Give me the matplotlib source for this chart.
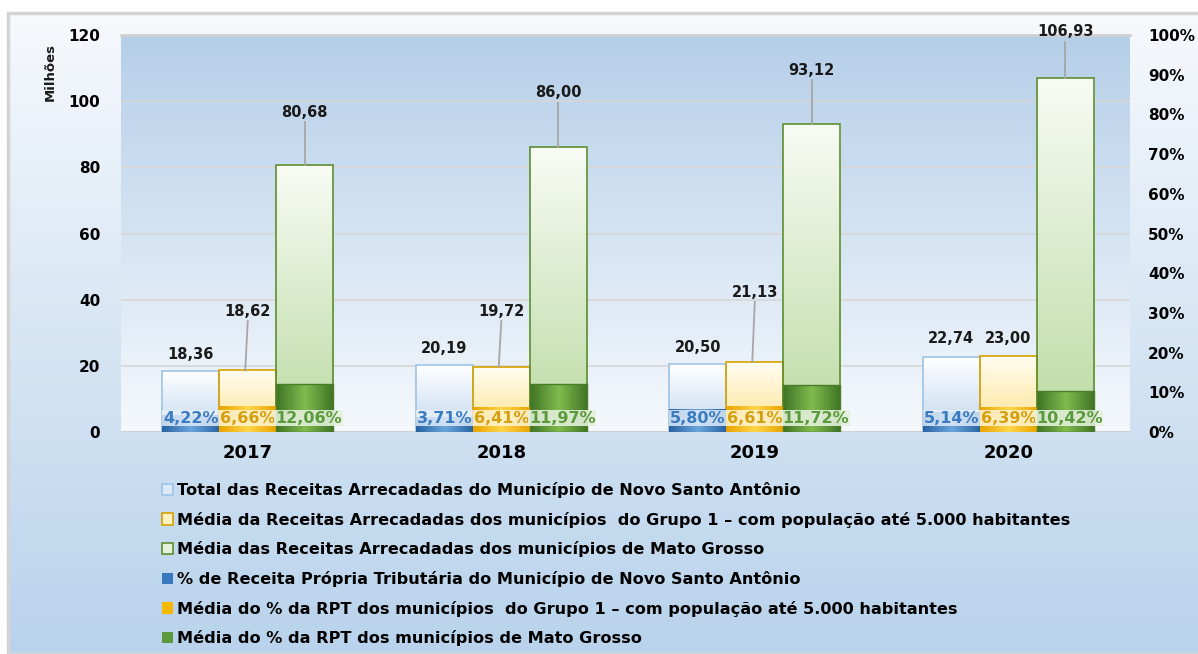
import numpy as np
import matplotlib
matplotlib.use("Agg")
import matplotlib.pyplot as plt
from matplotlib.colors import to_rgb
from matplotlib.patches import Rectangle

# ---- data
anos = ["2017", "2018", "2019", "2020"]
total_municipio = [18.36, 20.19, 20.50, 22.74]
media_grupo1 = [18.62, 19.72, 21.13, 23.00]
media_mt = [80.68, 86.00, 93.12, 106.93]
pct_municipio = [4.22, 3.71, 5.80, 5.14]
pct_grupo1 = [6.66, 6.41, 6.61, 6.39]
pct_mt = [12.06, 11.97, 11.72, 10.42]

legend_labels = [
    "Total das Receitas Arrecadadas do Município de Novo Santo Antônio",
    "Média da Receitas Arrecadadas dos municípios  do Grupo 1 – com população até 5.000 habitantes",
    "Média das Receitas Arrecadadas dos municípios de Mato Grosso",
    "% de Receita Própria Tributária do Município de Novo Santo Antônio",
    "Média do % da RPT dos municípios  do Grupo 1 – com população até 5.000 habitantes",
    "Média do % da RPT dos municípios de Mato Grosso",
]

plt.rcParams['font.family'] = ['DejaVu Sans']
plt.rcParams['font.weight'] = 'bold'


def gradient_img(c1, c2, n=64, horizontal=False, center=None):
    a, b = np.array(to_rgb(c1)), np.array(to_rgb(c2))
    t = np.linspace(0, 1, n)
    if center is not None:
        # edges c1 -> center c2 -> edges c1
        t = 1 - np.abs(t - 0.5) * 2
    img = a[None, :] * (1 - t[:, None]) + b[None, :] * t[:, None]
    if horizontal:
        return img[None, :, :]
    return img[:, None, :]


def grad_bar(ax, bar, c_top, c_bot, horizontal=False):
    x, y = bar.get_x(), bar.get_y()
    w, h = bar.get_width(), bar.get_height()
    if horizontal:
        img = gradient_img(c_top, c_bot, horizontal=True, center=True)
    else:
        img = gradient_img(c_top, c_bot)
    im = ax.imshow(img, extent=(x, x + w, y, y + h), origin="upper",
                   aspect="auto", zorder=bar.get_zorder() - 0.1,
                   interpolation="bilinear")
    im.set_clip_path(bar)


fig = plt.figure(figsize=(11.98, 6.54), dpi=100)
fig.patch.set_facecolor("white")

# fond du graphique
bg = fig.add_axes([8 / 1198, 0, 1 - 8 / 1198, 1 - 13 / 654], zorder=-10)
bg.imshow(gradient_img("#f6f9fc", "#b9d3ec"), extent=(0, 1, 0, 1),
          aspect="auto", origin="upper")
bg.set_xlim(0, 1)
bg.set_ylim(0, 1)
bg.axis("off")
bg.add_patch(Rectangle((0, 0), 1.2, 1, fill=False, edgecolor="#d4d4d4",
                       linewidth=2.5, transform=bg.transAxes, clip_on=False))

ax = fig.add_axes([121 / 1198, 1 - 432 / 654, (1130 - 121) / 1198, (432 - 35) / 654])
ax.patch.set_alpha(0)
ax.imshow(gradient_img("#b6cfe9", "#f4f8fc"), extent=(0, 1, 0, 1),
          transform=ax.transAxes, aspect="auto", origin="upper", zorder=-1)

x = np.arange(len(anos))
w = 0.225

b1 = ax.bar(x - w, total_municipio, w, facecolor="none", edgecolor="#9dc3e6", linewidth=1.2, zorder=2)
b2 = ax.bar(x, media_grupo1, w, facecolor="none", edgecolor="#d6a200", linewidth=1.2, zorder=2)
b3 = ax.bar(x + w, media_mt, w, facecolor="none", edgecolor="#5b8f2f", linewidth=1.2, zorder=2)
for bar in b1:
    grad_bar(ax, bar, "#ffffff", "#c2d7ef")
for bar in b2:
    grad_bar(ax, bar, "#fffdf2", "#ffe38f")
for bar in b3:
    grad_bar(ax, bar, "#f8fbf4", "#bcdba4")

ax.set_xlim(-0.5, 3.48)
ax.set_ylim(0, 120)
ax.set_yticks(np.arange(0, 121, 20))
ax.set_axisbelow(True)
ax.grid(axis="y", color="#d6d6d6", linewidth=1.2, zorder=0)
for s in ax.spines.values():
    s.set_visible(False)
ax.tick_params(axis="both", length=0)
ax.tick_params(axis="y", labelsize=11, pad=15)
ax.tick_params(axis="x", labelsize=13, pad=9)
ax.set_xticks(x)
ax.set_xticklabels(anos, fontweight="bold")
ax.axhline(0, color="#d0d0d0", linewidth=1.5, zorder=1)
ax.axhline(120, color="#d0d0d0", linewidth=2, zorder=1, clip_on=False)

# étiquettes des valeurs
off_blue = [5.0, 5.2, 5.0, 5.6]
off_yellow = [17.7, 16.6, 21.0, 5.4]
off_green = [16.0, 16.5, 16.3, 14.0]
for i in range(len(anos)):
    ax.text(x[i] - w, total_municipio[i] + off_blue[i], f"{total_municipio[i]:.2f}".replace(".", ","),
            ha="center", va="center", fontsize=10.5, fontweight="bold", color="#1a1a1a")
    ax.text(x[i], media_grupo1[i] + off_yellow[i], f"{media_grupo1[i]:.2f}".replace(".", ","),
            ha="center", va="center", fontsize=10.5, fontweight="bold", color="#1a1a1a")
    if off_yellow[i] > 8:
        ax.plot([x[i], x[i] - 0.01], [media_grupo1[i] + off_yellow[i] - 2.8, media_grupo1[i]],
                color="#a6a6a6", linewidth=1.3, zorder=3)
    ax.text(x[i] + w, media_mt[i] + off_green[i], f"{media_mt[i]:.2f}".replace(".", ","),
            ha="center", va="center", fontsize=10.5, fontweight="bold", color="#1a1a1a")
    ax.plot([x[i] + w, x[i] + w], [media_mt[i] + off_green[i] - 3.0, media_mt[i]],
            color="#a6a6a6", linewidth=1.3, zorder=3)

# axe secondaire : pourcentages
ax2 = ax.twinx()
ax2.patch.set_visible(False)
ax2.set_ylim(0, 100)
ax2.set_yticks(np.arange(0, 101, 10))
ax2.set_yticklabels([f"{v}%" for v in range(0, 101, 10)])
for s in ax2.spines.values():
    s.set_visible(False)
ax2.tick_params(axis="y", length=0, labelsize=11, pad=13)

p1 = ax2.bar(x - w, pct_municipio, w, facecolor="none", edgecolor="none", zorder=2)
p2 = ax2.bar(x, pct_grupo1, w, facecolor="none", edgecolor="none", zorder=2)
p3 = ax2.bar(x + w, pct_mt, w, facecolor="none", edgecolor="#4b7d28", linewidth=1, zorder=2)
for bar in p1:
    grad_bar(ax2, bar, "#2a63a3", "#6aa5dc", horizontal=True)
for bar in p2:
    grad_bar(ax2, bar, "#e8a400", "#ffd54a", horizontal=True)
for bar in p3:
    grad_bar(ax2, bar, "#3f7424", "#80bb4f", horizontal=True)
ax2.set_xlim(-0.5, 3.48)
ax2.set_ylim(0, 100)

for i in range(len(anos)):
    ax2.text(x[i] - w, 3.5, f"{pct_municipio[i]:.2f}%".replace(".", ","), ha="center", va="center",
             fontsize=11.5, fontweight="bold", color="#3a7cc2", zorder=5,
             bbox=dict(boxstyle="square,pad=0.05", facecolor="#e9f1fa", edgecolor="none", alpha=0.8))
    ax2.text(x[i], 3.5, f"{pct_grupo1[i]:.2f}%".replace(".", ","), ha="center", va="center",
             fontsize=11.5, fontweight="bold", color="#d4a011", zorder=5,
             bbox=dict(boxstyle="square,pad=0.05", facecolor="#fff5d6", edgecolor="none", alpha=0.85))
    ax2.text(x[i] + w + 0.015, 3.5, f"{pct_mt[i]:.2f}%".replace(".", ","), ha="center", va="center",
             fontsize=11.5, fontweight="bold", color="#5a9a3c", zorder=5,
             bbox=dict(boxstyle="square,pad=0.05", facecolor="#e4f0db", edgecolor="none", alpha=0.9))

fig.text(50 / 1198, 1 - 72 / 654, "Milhões", rotation=90, ha="center", va="center",
         fontsize=9.5, fontweight="bold", color="#1a1a1a")

# légende
handles = [
    Rectangle((0, 0), 1, 1, facecolor="#dde9f6", edgecolor="#9dc3e6", linewidth=1.2),
    Rectangle((0, 0), 1, 1, facecolor="#fff2c2", edgecolor="#d6a200", linewidth=1.2),
    Rectangle((0, 0), 1, 1, facecolor="#e6f1dc", edgecolor="#5b8f2f", linewidth=1.2),
    Rectangle((0, 0), 1, 1, facecolor="#3a78bd", edgecolor="none"),
    Rectangle((0, 0), 1, 1, facecolor="#f5b800", edgecolor="none"),
    Rectangle((0, 0), 1, 1, facecolor="#5a9a3c", edgecolor="none"),
]
fig.legend(handles, legend_labels, loc="upper left", bbox_to_anchor=(162 / 1198, 1 - 482 / 654),
           frameon=False, prop={"weight": "bold", "size": 11.6},
           handlelength=0.7, handleheight=0.7, handletextpad=0.25, labelspacing=0.85,
           borderaxespad=0, borderpad=0)

fig.savefig("out.png", dpi=100, facecolor=fig.get_facecolor())
